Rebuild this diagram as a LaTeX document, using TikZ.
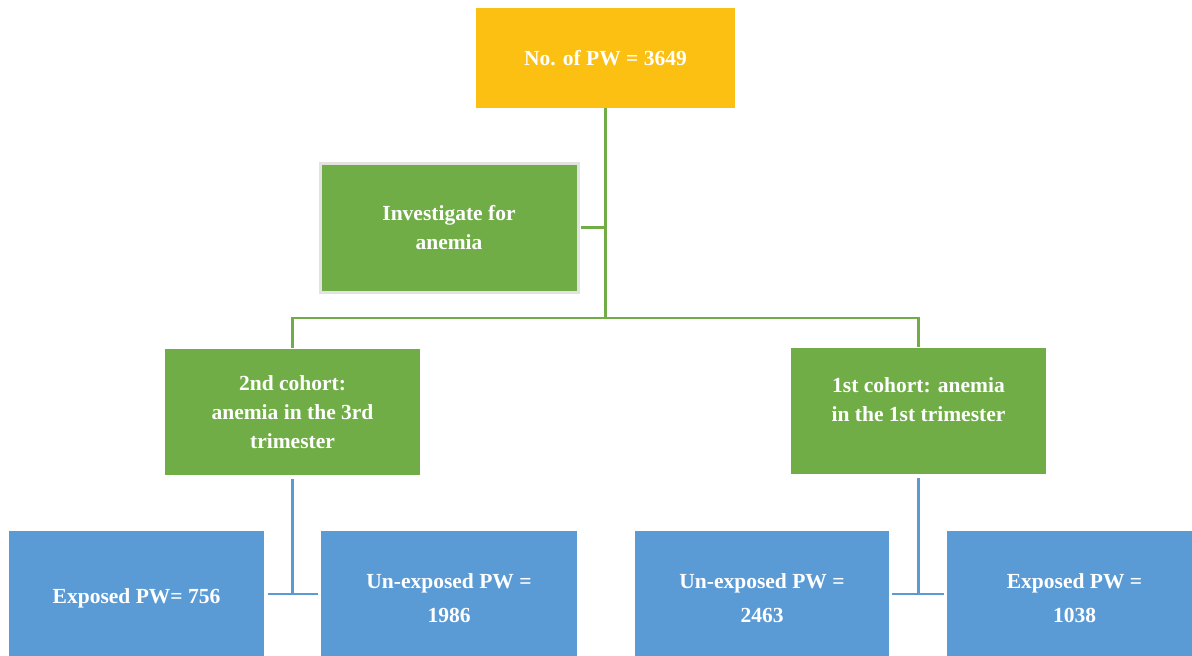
\documentclass[tikz,border=0pt]{standalone}
\usepackage{fontspec}
\setmainfont{Liberation Serif}
\definecolor{cyel}{HTML}{FBC011}
\definecolor{cgrn}{HTML}{70AD47}
\definecolor{cblu}{HTML}{5B9BD5}
\definecolor{cgry}{HTML}{E2E2E2}
\tikzset{
  box/.style={rectangle, inner sep=0pt, align=center, text=white,
    font=\fontsize{21.5}{29}\selectfont\bfseries},
  ybox/.style={box, fill=cyel, minimum width=259pt, minimum height=100pt},
  gbox/.style={box, fill=cgrn, minimum width=255pt, minimum height=126pt},
  bbox/.style={box, fill=cblu, minimum width=255pt, minimum height=134pt,
    font=\fontsize{21.5}{34}\selectfont\bfseries},
  gline/.style={draw=cgrn, line width=2.5pt},
  bline/.style={draw=cblu, line width=2.5pt}
}
\begin{document}
\begin{tikzpicture}[x=1pt,y=-1pt]
\useasboundingbox (0,0) rectangle (1192,656);
\node[ybox] (top) at (605.5,58) {No. of PW = 3649};
\node[gbox, minimum width=258pt, minimum height=129pt, draw=cgry, line width=3pt] (inv) at (449,227.5) {Investigate for\\anemia};
\node[gbox] (c2) at (292.5,412) {2nd cohort:\\anemia in the 3rd\\trimester};
\node[gbox] (c1) at (918.5,411) {1st cohort: anemia\\in the 1st trimester\\[-6pt]\mbox{}};
\node[bbox] (e1) at (136.5,598) {Exposed PW= 756};
\node[bbox, minimum width=256pt] (u1) at (449,598) {Un-exposed PW =\\1986};
\node[bbox, minimum width=254pt] (u2) at (762,598) {Un-exposed PW =\\2463};
\node[bbox] (e2) at (1074.5,598) {Exposed PW =\\1038};
\coordinate (fork) at (605.5,318);
\coordinate (j1) at (292.5,594);
\coordinate (j2) at (918.5,594);
% green connectors
\draw[gline] (top.south) -- (fork);
\draw[gline] ([xshift=1.5pt]inv.east) -- (inv.east -| top.south);
\draw[gline] ([yshift=1pt]c2.north) |- (fork) -| ([yshift=1pt]c1.north);
% blue connectors
\draw[bline] ([yshift=-4pt]c2.south) -- (j1);
\draw[bline] ([xshift=4pt]e1.east |- j1) -- ([xshift=-3pt]u1.west |- j1);
\draw[bline] ([yshift=-4pt]c1.south) -- (j2);
\draw[bline] ([xshift=3pt]u2.east |- j2) -- ([xshift=-3pt]e2.west |- j2);
\end{tikzpicture}
\end{document}
